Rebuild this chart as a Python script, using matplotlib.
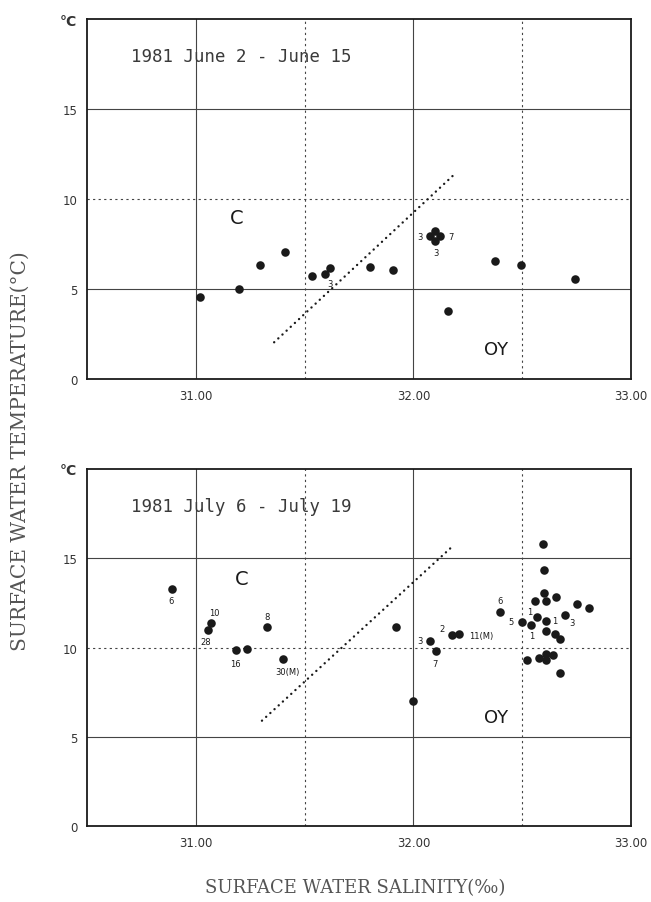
import matplotlib
matplotlib.use("Agg")
import matplotlib.pyplot as plt

# ---- data: top panel (1981 June 2 - June 15) ----
june_sal = [31.02, 31.197, 31.297, 31.411, 31.536, 31.592, 31.615, 31.80, 31.905,
            32.077, 32.123, 32.10, 32.10, 32.16, 32.377, 32.495, 32.741]
june_temp = [4.57, 4.98, 6.31, 7.04, 5.74, 5.81, 6.19, 6.20, 6.07,
             7.94, 7.94, 8.20, 7.65, 3.78, 6.56, 6.31, 5.54]
june_line_sal = [31.36, 32.19]
june_line_temp = [2.04, 11.39]
june_lbl_text = ["3", "7", "3", "3"]
june_lbl_sal = [32.028, 32.172, 32.103, 31.615]
june_lbl_temp = [7.93, 7.93, 7.04, 5.28]

# ---- data: bottom panel (1981 July 6 - July 19) ----
july_sal = [30.89, 31.071, 31.054, 31.184, 31.235, 31.327, 31.403, 31.918, 32.0,
            32.077, 32.102, 32.176, 32.209, 32.40, 32.498,
            32.595, 32.60, 32.60, 32.56, 32.608, 32.654, 32.754, 32.808,
            32.542, 32.569, 32.611, 32.698, 32.608, 32.649, 32.672,
            32.52, 32.577, 32.608, 32.611, 32.642, 32.672]
july_temp = [13.27, 11.38, 10.96, 9.87, 9.91, 11.14, 9.35, 11.14, 6.99,
             10.35, 9.78, 10.70, 10.76, 12.01, 11.45,
             15.80, 14.35, 13.05, 12.62, 12.62, 12.81, 12.42, 12.19,
             11.25, 11.69, 11.51, 11.84, 10.95, 10.76, 10.45,
             9.28, 9.42, 9.61, 9.31, 9.59, 8.57]
july_line_sal = [31.304, 32.179]
july_line_temp = [5.90, 15.66]
july_lbl_text = ["6", "10", "28", "16", "8", "30(M)", "3", "7", "2", "11(M)",
                 "6", "5", "1", "1", "3", "1"]
july_lbl_sal = [30.886, 31.084, 31.044, 31.181, 31.327, 31.42, 32.03, 32.10, 32.13, 32.31,
                32.40, 32.447, 32.535, 32.649, 32.731, 32.542]
july_lbl_temp = [12.64, 11.97, 10.33, 9.13, 11.75, 8.65, 10.4, 9.13, 11.05, 10.70,
                 12.64, 11.44, 12.04, 11.52, 11.41, 10.69]

x_ticks = [31.0, 32.0, 33.0]
x_ticklabels = ["31.00", "32.00", "33.00"]
y_ticks = [0, 5, 10, 15, 20]
y_ticklabels = ["0", "5", "10", "15", "°C"]

panels = [
    dict(title="1981 June 2 - June 15", sal=june_sal, temp=june_temp,
         lx=june_line_sal, ly=june_line_temp,
         lt=june_lbl_text, ls=june_lbl_sal, ltp=june_lbl_temp,
         c_pos=(31.19, 9.0), oy_pos=(32.38, 1.67),
         rect=[87/651, (903-380)/903, 544/651, 360/903]),
    dict(title="1981 July 6 - July 19", sal=july_sal, temp=july_temp,
         lx=july_line_sal, ly=july_line_temp,
         lt=july_lbl_text, ls=july_lbl_sal, ltp=july_lbl_temp,
         c_pos=(31.21, 13.84), oy_pos=(32.38, 6.13),
         rect=[87/651, (903-827)/903, 544/651, 357/903]),
]

ink = "#1a1a1a"
fig = plt.figure(figsize=(6.51, 9.03), dpi=100)
fig.patch.set_facecolor("white")

for p in panels:
    ax = fig.add_axes(p["rect"])
    ax.set_xlim(30.5, 33.0)
    ax.set_ylim(0, 20)
    for xv in (31.0, 32.0):
        ax.axvline(xv, color="#444444", lw=0.8, zorder=1)
    for xv in (31.5, 32.5):
        ax.axvline(xv, color="#444444", lw=0.8, ls=(0, (2, 3)), zorder=1)
    for yv in (5, 15):
        ax.axhline(yv, color="#444444", lw=0.8, zorder=1)
    ax.axhline(10, color="#444444", lw=0.8, ls=(0, (2, 3)), zorder=1)

    ax.scatter(p["sal"], p["temp"], s=38, color=ink, zorder=3, linewidths=0)
    ax.plot(p["lx"], p["ly"], color=ink, lw=1.7, ls=(0, (0.05, 2.35)),
            dash_capstyle="round", zorder=2)

    for t, xv, yv in zip(p["lt"], p["ls"], p["ltp"]):
        ax.text(xv, yv, t, fontsize=6, ha="center", va="center", color=ink,
                family="DejaVu Sans", zorder=4)

    ax.text(30.70, 17.95, p["title"], fontsize=12.5, family="DejaVu Sans Mono",
            ha="left", va="center", color="#3a3a3a")
    ax.text(p["c_pos"][0], p["c_pos"][1], "C", fontsize=14, ha="center",
            va="center", color=ink, family="DejaVu Sans")
    ax.text(p["oy_pos"][0], p["oy_pos"][1], "OY", fontsize=13, ha="center",
            va="center", color=ink, family="DejaVu Sans")

    ax.set_xticks(x_ticks)
    ax.set_xticklabels(x_ticklabels, fontsize=8.5, color="#333333")
    ax.set_yticks(y_ticks)
    ax.set_yticklabels(y_ticklabels, fontsize=8.5, color="#333333")
    ax.tick_params(length=0, pad=7)
    ax.get_yticklabels()[-1].set_fontweight("bold")
    ax.get_yticklabels()[-1].set_fontsize(10)
    for s in ax.spines.values():
        s.set_linewidth(1.3)
        s.set_color(ink)

fig.text(20/651, 1 - 451/903, "SURFACE WATER TEMPERATURE(°C)", rotation=90,
         ha="center", va="center", fontsize=14.5,
         family=["DejaVu Serif"], color="#555555")
fig.text(355/651, 1 - 888/903, "SURFACE WATER SALINITY(‰)",
         ha="center", va="center", fontsize=13,
         family=["DejaVu Serif"], color="#555555")

fig.savefig("out.png", dpi=100, facecolor="white")
